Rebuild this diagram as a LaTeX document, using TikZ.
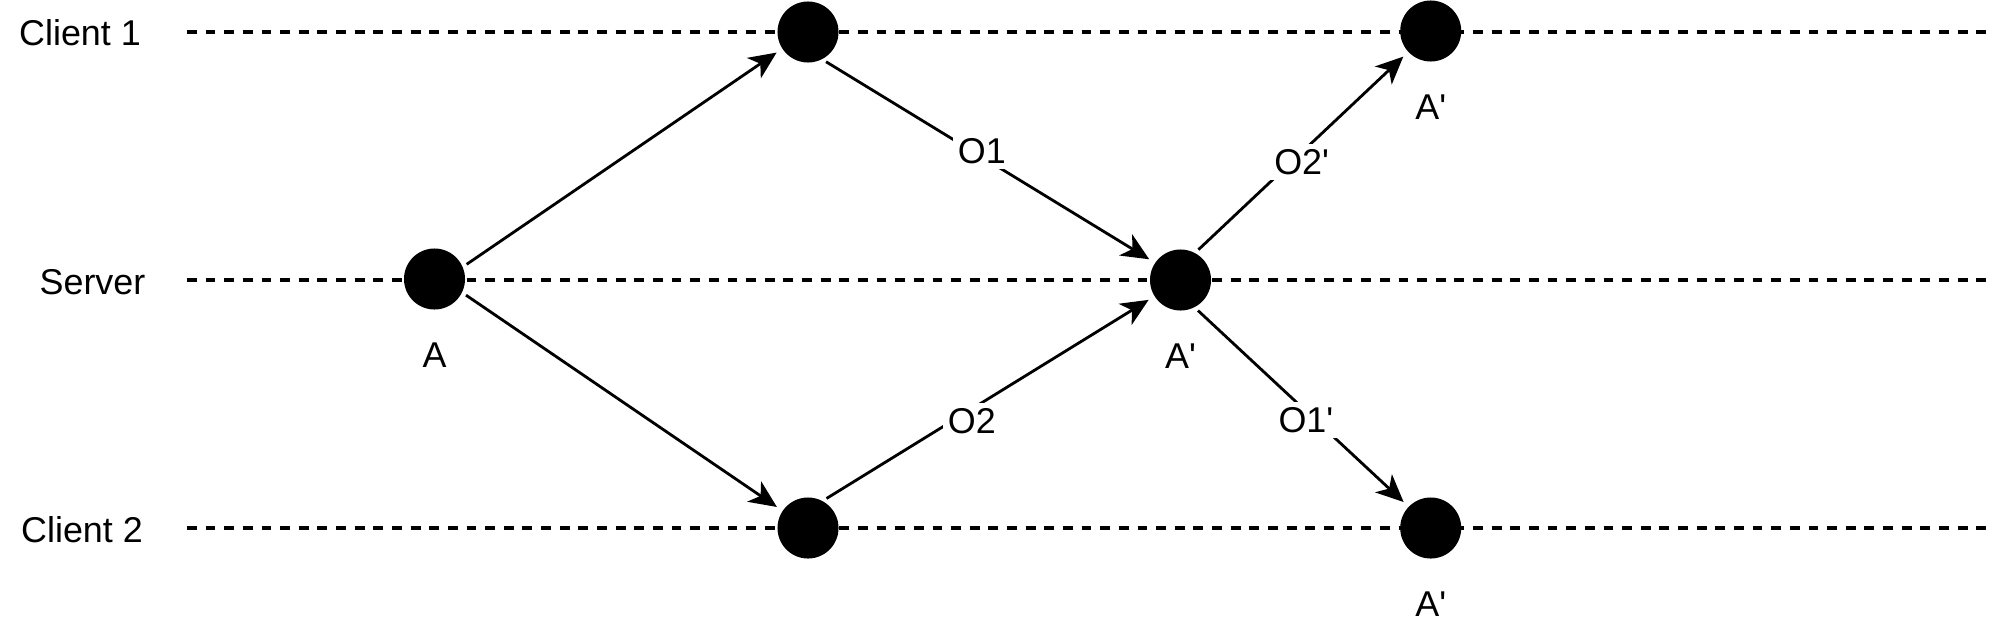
\documentclass[tikz,border=0pt]{standalone}
\usepackage{fontspec}
\setmainfont{Liberation Sans}[Ligatures=TeXOff]
\usepackage{tikz}
\usetikzlibrary{arrows.meta,positioning}

\begin{document}
\begin{tikzpicture}[x=0.01cm,y=-0.01cm,
  font=\fontsize{10.2}{12}\selectfont,
  dot/.style={circle,fill=black,inner sep=0pt,outer sep=0pt,minimum size=0.61cm},
  lane/.style={line width=0.95pt,dash pattern=on 2.8pt off 2.5pt},
  msg/.style={line width=0.8pt,-{Stealth[length=7.8pt,width=7pt,inset=2.2pt]},
    shorten <=1.4pt,shorten >=2pt},
  op/.style={fill=white,inner sep=1.5pt},
  tag/.style={inner sep=0pt}]
\useasboundingbox (0,0) rectangle (1992,621);

% the three timelines
\coordinate (c1s) at (187,32);
\coordinate (c1e) at (1992,32);
\coordinate (svs) at (187,280);
\coordinate (sve) at (1992,280);
\coordinate (c2s) at (187,528);
\coordinate (c2e) at (1992,528);
\draw[lane] (c1s) -- (c1e);
\draw[lane] (svs) -- (sve);
\draw[lane] (c2s) -- (c2e);

\node[tag] (lc1) at (80,33) {Client 1};
\node[tag] (lsv) at (92.5,282) {Server};
\node[tag] (lc2) at (82,530) {Client 2};

% states
\node[dot] (A) at (434.5,279) {};
\node[dot] (C1a) at (808,32) {};
\node[dot] (C2a) at (808,528) {};
\node[dot] (S) at (1180.5,280) {};
\node[dot] (C1b) at (1430.7,31) {};
\node[dot] (C2b) at (1430.7,528) {};

\node[tag,on grid,below=0.76cm of A] (tA) {A};
\node[tag,on grid,below=0.76cm of S] (tS) {A'};
\node[tag,on grid,below=0.76cm of C1b] (tC1b) {A'};
\node[tag,on grid,below=0.76cm of C2b] (tC2b) {A'};

% operations
\draw[msg] (A.23.8) -- (C1a.213.5);
\draw[msg] (A.334.4) -- (C2a.146.3);
\draw[msg] (C1a.297.3) -- node[op,pos=.48,yshift=0.06cm] (o1) {O1} (S.146.7);
\draw[msg] (C2a.62.8) -- node[op,pos=.45,yshift=-0.12cm] (o2) {O2} (S.212.3);
\draw[msg] (S.62.9) -- node[op,pos=.5,yshift=-0.1cm] (o2p) {O2'} (C1b.223.4);
\draw[msg] (S.297.1) -- node[op,pos=.52,yshift=-0.09cm] (o1p) {O1'} (C2b.136.9);
\end{tikzpicture}
\end{document}
